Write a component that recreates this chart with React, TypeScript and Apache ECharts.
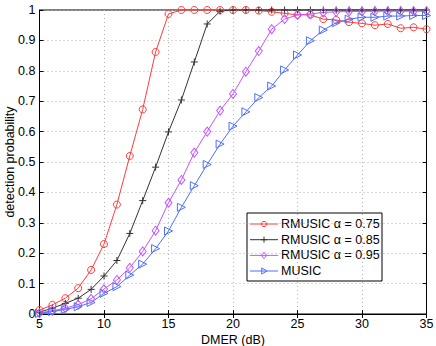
import React, { useEffect, useRef } from "react";
import * as echarts from "echarts";

const dmer = [5, 6, 7, 8, 9, 10, 11, 12, 13, 14, 15, 16, 17, 18, 19, 20, 21, 22, 23, 24, 25, 26, 27, 28, 29, 30, 31, 32, 33, 34, 35];

const rmusic075 = [0.013, 0.03, 0.052, 0.085, 0.145, 0.23, 0.36, 0.52, 0.673, 0.862, 0.987, 1, 1, 1, 1, 1, 1, 0.998, 0.994, 0.989, 0.984, 0.984, 0.97, 0.967, 0.96, 0.956, 0.95, 0.954, 0.94, 0.943, 0.937];
const rmusic085 = [0.006, 0.019, 0.035, 0.052, 0.081, 0.125, 0.176, 0.265, 0.373, 0.483, 0.599, 0.704, 0.829, 0.954, 0.996, 1, 1, 1, 1, 1, 1, 1, 1, 1, 1, 1, 1, 1, 1, 1, 1];
const rmusic095 = [0.003, 0.011, 0.019, 0.031, 0.05, 0.082, 0.112, 0.152, 0.206, 0.274, 0.366, 0.441, 0.531, 0.6, 0.669, 0.724, 0.797, 0.865, 0.937, 0.97, 0.984, 0.987, 0.992, 0.994, 0.995, 0.995, 0.996, 0.996, 0.996, 0.996, 0.996];
const music = [0.002, 0.008, 0.015, 0.024, 0.038, 0.068, 0.09, 0.128, 0.164, 0.215, 0.273, 0.351, 0.422, 0.492, 0.559, 0.618, 0.665, 0.712, 0.75, 0.803, 0.852, 0.899, 0.934, 0.958, 0.97, 0.976, 0.976, 0.98, 0.98, 0.982, 0.982];

const seriesNames = ["RMUSIC α = 0.75", "RMUSIC α = 0.85", "RMUSIC α = 0.95", "MUSIC"];
const seriesColors = ["#ff3b3b", "#333333", "#c455ff", "#4f6fff"];
const xTicks = [5, 10, 15, 20, 25, 30, 35];

const FONT = "'Liberation Sans', Arial, Helvetica, sans-serif";

function pairs(ys: number[]) {
  return dmer.map((x, i) => [x, ys[i]]);
}

function legendMarker(i: number, cx: number, cy: number, color: string): any {
  const style = { fill: "none", stroke: color, lineWidth: 1 };
  if (i === 0) return { type: "circle", shape: { cx, cy, r: 2.6 }, style };
  if (i === 1)
    return {
      type: "group",
      children: [
        { type: "line", shape: { x1: cx - 3, y1: cy, x2: cx + 3, y2: cy }, style: { stroke: color, lineWidth: 1 } },
        { type: "line", shape: { x1: cx, y1: cy - 3, x2: cx, y2: cy + 3 }, style: { stroke: color, lineWidth: 1 } },
      ],
    };
  if (i === 2)
    return { type: "polygon", shape: { points: [[cx, cy - 3.2], [cx + 2.6, cy], [cx, cy + 3.2], [cx - 2.6, cy]] }, style };
  return { type: "polygon", shape: { points: [[cx - 2.3, cy - 3], [cx + 3, cy], [cx - 2.3, cy + 3]] }, style };
}

export default function App() {
  const ref = useRef<HTMLDivElement>(null);
  useEffect(() => {
    if (!ref.current) return;
    const chart = echarts.init(ref.current, null, { renderer: "svg" });
    const mk = (name: string, data: number[], color: string, symbol: string, size: number | number[], rotate = 0) => ({
      name,
      type: "line",
      data: pairs(data),
      symbol,
      symbolSize: size,
      symbolRotate: rotate,
      showSymbol: true,
      clip: false,
      lineStyle: { color, width: 1 },
      itemStyle: { color: "none", borderColor: color, borderWidth: 1 },
      emphasis: { disabled: true },
      z: 3,
    });

    const lx = 247;
    const ly = 213;
    const rowY = [224, 239.7, 255.4, 271];
    const legendChildren: any[] = [
      { type: "rect", shape: { x: lx, y: ly, width: 135, height: 68 }, style: { fill: "#fff", stroke: "#000", lineWidth: 1 } },
    ];
    seriesNames.forEach((name, i) => {
      const y = rowY[i];
      legendChildren.push({ type: "line", shape: { x1: 250, y1: y, x2: 278, y2: y }, style: { stroke: seriesColors[i], lineWidth: 1 } });
      legendChildren.push(legendMarker(i, 264, y, seriesColors[i]));
      legendChildren.push({
        type: "text",
        x: 281,
        y,
        style: { text: name, fill: "#000", font: `12.5px ${FONT}`, verticalAlign: "middle", align: "left" },
      });
    });

    chart.setOption({
      animation: false,
      backgroundColor: "#fff",
      textStyle: { fontFamily: FONT },
      grid: {
        left: 39.5,
        right: 9.5,
        top: 10,
        bottom: 32,
        outerBoundsMode: "none",
        containLabel: false,
        show: true,
        borderColor: "#000",
        borderWidth: 1,
      },
      graphic: [{ type: "group", z: 100, children: legendChildren }],
      xAxis: [
        {
          type: "value",
          min: 5,
          max: 35,
          interval: 5,
          name: "DMER (dB)",
          nameLocation: "middle",
          nameGap: 19,
          nameMoveOverlap: false,
          nameTextStyle: { fontSize: 12.5, color: "#000", fontFamily: FONT },
          axisLine: { show: true, lineStyle: { color: "#000", width: 1 } },
          axisTick: { show: true, inside: true, length: 4, lineStyle: { color: "#000" } },
          axisLabel: {
            fontSize: 12.5,
            color: "#000",
            margin: 3,
            fontFamily: FONT,
            formatter: (v: number) => (xTicks.includes(v) ? String(v) : ""),
          },
          splitLine: { show: true, lineStyle: { color: "#b0b0b0", type: [1, 3], width: 1 } },
        },
        {
          type: "value",
          position: "top",
          min: 5,
          max: 35,
          interval: 5,
          axisLine: { show: true, lineStyle: { color: "#000", width: 1 } },
          axisTick: { show: true, inside: true, length: 4, lineStyle: { color: "#000" } },
          axisLabel: { show: false },
          splitLine: { show: false },
        },
      ],
      yAxis: [
        {
          type: "value",
          min: 0,
          max: 1,
          interval: 0.1,
          name: "detection probability",
          nameLocation: "middle",
          nameGap: 23,
          nameMoveOverlap: false,
          nameTextStyle: { fontSize: 12.5, color: "#000", fontFamily: FONT },
          axisLine: { show: true, lineStyle: { color: "#000", width: 1 } },
          axisTick: { show: true, inside: true, length: 4, lineStyle: { color: "#000" } },
          axisLabel: {
            fontSize: 12.5,
            color: "#000",
            margin: 4,
            fontFamily: FONT,
            formatter: (v: number) => String(Math.round(v * 10) / 10),
          },
          splitLine: { show: true, lineStyle: { color: "#b0b0b0", type: [1, 3], width: 1 } },
        },
        {
          type: "value",
          position: "right",
          min: 0,
          max: 1,
          interval: 0.1,
          axisLine: { show: true, lineStyle: { color: "#000", width: 1 } },
          axisTick: { show: true, inside: true, length: 4, lineStyle: { color: "#000" } },
          axisLabel: { show: false },
          splitLine: { show: false },
        },
      ],
      series: [
        mk(seriesNames[0], rmusic075, seriesColors[0], "circle", 7),
        mk(seriesNames[1], rmusic085, seriesColors[1], "path://M0,5L10,5M5,0L5,10", 7),
        mk(seriesNames[2], rmusic095, seriesColors[2], "diamond", [7, 9]),
        mk(seriesNames[3], music, seriesColors[3], "triangle", 8, -90),
      ],
    });
    return () => chart.dispose();
  }, []);
  return <div ref={ref} style={{ width: 436, height: 346, position: "absolute", left: 0, top: 0 }} />;
}
